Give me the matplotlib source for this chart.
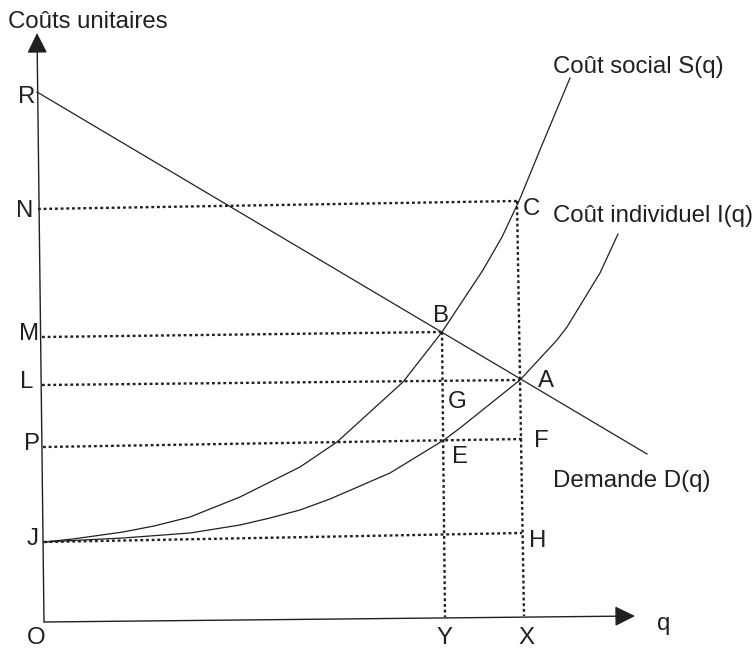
import matplotlib
matplotlib.use('Agg')
import matplotlib.pyplot as plt

# Repere : origine en O, q vers la droite, couts vers le haut
# (le dessin d'origine est tres legerement incline)

# Courbe du cout social S(q)
s_q = [0, 29, 79, 110, 146, 196, 226, 256, 293, 326, 359, 398, 439, 458, 475, 498, 526]
s_cout = [80, 83, 90, 96, 105, 125, 140, 155, 180, 210, 240, 290, 352, 385, 421, 477, 544]

# Courbe du cout individuel I(q)
i_q = [0, 79, 146, 196, 226, 256, 286, 346, 400, 416, 476, 513, 523, 556, 574]
i_cout = [80, 84, 89, 97, 104, 112, 123, 149, 182, 194, 242, 282, 295, 349, 388]

# Droite de demande D(q) : de R jusqu'a son extremite
d_q = [-7, 603]
d_cout = [530, 168]

# Points remarquables
pt_B = (398, 290)
pt_A = (476, 242)
pt_C = (473, 421)
pt_E = (400, 182)

# Pointilles horizontaux : depart sur l'axe -> arrivee
niveaux = {
    'N': [(-6, 413), pt_C],
    'M': [(-2, 285), pt_B],
    'L': [(-2, 237), pt_A],
    'P': [(-1, 175), (478, 183)],
    'J': [(0, 80), (478, 89)],
}
# Pointilles verticaux : point -> axe des q
verticales = {
    'Y': [pt_B, (401, 5)],
    'X': [pt_C, (480, 6)],
}

# Axes
axe_q = [(0, 0), (591, 6)]
axe_cout = [(0, 0), (-7, 589)]

# Textes (gauche, ligne de base)
etiquettes = [
    ('Coûts unitaires', -36, 594),
    ('R', -26, 519), ('N', -28, 405), ('M', -25, 282), ('L', -24, 234),
    ('P', -20, 172), ('J', -17, 77), ('O', -17, -22),
    ('Y', 392, -22), ('X', 474, -22), ('q', 613, -8),
    ('B', 389, 300), ('A', 494, 235), ('G', 404, 214), ('F', 490, 175),
    ('E', 408, 159), ('C', 479, 407), ('H', 485, 75),
    ('Coût social S(q)', 509, 549),
    ('Coût individuel I(q)', 509, 400),
    ('Demande D(q)', 509, 135),
]

noir = '#231f20'
plt.rcParams['font.family'] = ['Liberation Sans', 'DejaVu Sans']

fig = plt.figure(figsize=(7.55, 6.5), dpi=100)
ax = fig.add_axes([0, 0, 1, 1])
ax.set_xlim(-44, 711)
ax.set_ylim(-28, 622)
ax.axis('off')

# axes avec fleches
for (x0, y0), (x1, y1) in [axe_q, axe_cout]:
    ax.annotate('', xy=(x1, y1), xytext=(x0, y0),
                arrowprops=dict(arrowstyle='-|>,head_length=1.25,head_width=0.62',
                                color=noir, lw=1.0, shrinkA=0, shrinkB=0,
                                mutation_scale=10))

# courbes
ax.plot(s_q, s_cout, color=noir, lw=0.9, solid_joinstyle='round')
ax.plot(i_q, i_cout, color=noir, lw=0.9, solid_joinstyle='round')
ax.plot(d_q, d_cout, color=noir, lw=0.9)

# pointilles
for (a, b) in list(niveaux.values()) + list(verticales.values()):
    ax.plot([a[0], b[0]], [a[1], b[1]], color=noir, lw=1.7,
            linestyle=(0, (1.2, 1.2)))

for txt, x, y in etiquettes:
    ax.text(x, y, txt, fontsize=17.3, color=noir, ha='left', va='baseline')

fig.savefig('out.png', dpi=100)
